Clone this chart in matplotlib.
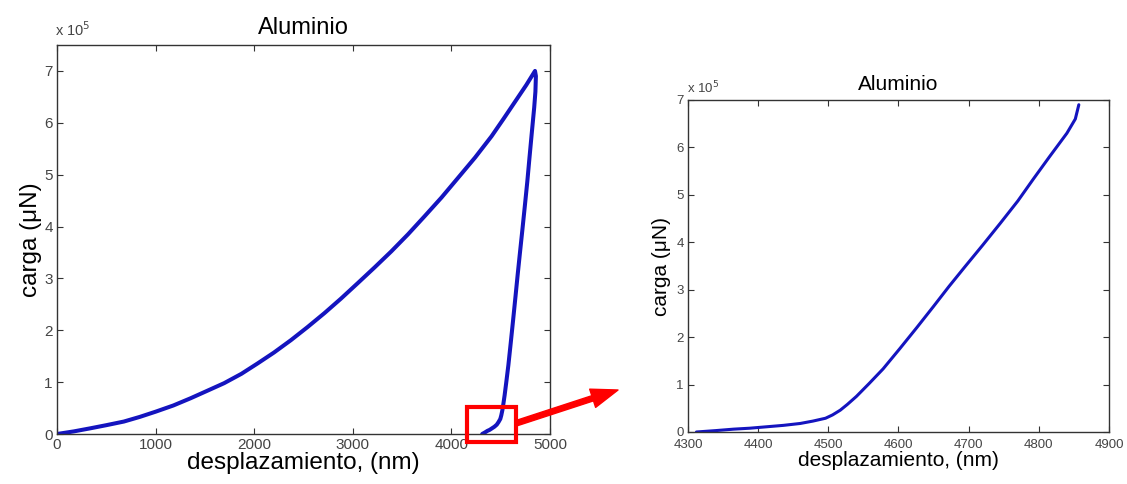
import numpy as np
import matplotlib
matplotlib.use("Agg")
import matplotlib.pyplot as plt
from matplotlib.patches import Rectangle, FancyArrowPatch
from matplotlib.ticker import FuncFormatter

plt.rcParams['font.family'] = ['Liberation Sans', 'DejaVu Sans']

# loading branch (nm, x1e5 uN)
disp_load = [0, 170, 339, 500, 678, 840, 1000, 1180, 1356, 1520, 1695, 1870,
             2034, 2200, 2373, 2540, 2712, 2880, 3051, 3220, 3390, 3560,
             3729, 3900, 4068, 4240, 4407, 4530, 4661, 4760, 4848]
load_load = [0, 0.05, 0.11, 0.17, 0.24, 0.33, 0.43, 0.55, 0.69, 0.83, 0.98, 1.16,
             1.36, 1.57, 1.81, 2.06, 2.33, 2.61, 2.91, 3.21, 3.52, 3.85,
             4.20, 4.56, 4.94, 5.33, 5.74, 6.08, 6.45, 6.73, 7.0]

# unloading branch (nm, x1e5 uN)
disp_unload = [4857, 4852, 4840, 4815, 4792, 4770, 4745, 4720, 4695, 4672,
               4650, 4626, 4602, 4578, 4558, 4540, 4527, 4517, 4506, 4496,
               4478, 4460, 4436, 4412, 4388, 4365, 4340, 4312]
load_unload = [6.9, 6.6, 6.30, 5.80, 5.33, 4.87, 4.40, 3.94, 3.49, 3.07,
               2.65, 2.20, 1.76, 1.33, 1.02, 0.75, 0.58, 0.46, 0.36, 0.29,
               0.23, 0.18, 0.14, 0.11, 0.08, 0.06, 0.03, 0.0]

# zoom box on the left panel (nm, x1e5 uN)
box_x = [4158, 4655]
box_y = [-0.15, 0.52]

titulo = 'Aluminio'
xlab = 'desplazamiento, (nm)'
ylab = 'carga (\u03bcN)'

line_color = '#1414bf'
tick_color = '#444444'
scale = 1e5

fig = plt.figure(figsize=(11.27, 4.84), dpi=100)
W, H = 1127, 484

def px_axes(l, t, r, b):
    return fig.add_axes([l / W, 1 - b / H, (r - l) / W, (b - t) / H])

def style(ax, fs):
    ax.tick_params(direction='in', top=True, right=True, length=4,
                   colors='#333333', labelcolor=tick_color, labelsize=fs, pad=3)
    for s in ax.spines.values():
        s.set_color('#333333')
        s.set_linewidth(1.0)
    ax.yaxis.set_major_formatter(FuncFormatter(lambda v, p: f'{v / scale:.0f}'))

# left panel
ax1 = px_axes(57, 45, 550, 434)
ax1.plot(disp_load + disp_unload,
         np.array(load_load + load_unload) * scale,
         color=line_color, lw=2.9, solid_capstyle='round', solid_joinstyle='round')
ax1.set_xlim(0, 5000)
ax1.set_ylim(0, 7.5 * scale)
ax1.set_xticks(range(0, 5001, 1000))
ax1.set_yticks(np.arange(0, 8) * scale)
style(ax1, 11)
ax1.set_title(titulo, fontsize=17, pad=8)
ax1.set_xlabel(xlab, fontsize=17.5, labelpad=0)
ax1.set_ylabel(ylab, fontsize=17.5, labelpad=2)
ax1.text(-0.005, 1.015, 'x 10$^{5}$', transform=ax1.transAxes, fontsize=10.5,
         color=tick_color, ha='left', va='bottom')
rect = Rectangle((box_x[0], box_y[0] * scale), box_x[1] - box_x[0],
                 (box_y[1] - box_y[0]) * scale, fill=False, edgecolor='#ff0000',
                 lw=3, clip_on=False, zorder=5)
ax1.add_patch(rect)

# right panel (zoom on unloading)
ax2 = px_axes(688, 100, 1109, 432)
ax2.plot(disp_unload, np.array(load_unload) * scale, color=line_color, lw=2.2,
         solid_capstyle='round', solid_joinstyle='round')
ax2.set_xlim(4300, 4900)
ax2.set_ylim(0, 7 * scale)
ax2.set_xticks(range(4300, 4901, 100))
ax2.set_yticks(np.arange(0, 8) * scale)
style(ax2, 9.5)
ax2.tick_params(axis='x', pad=5)
ax2.set_title(titulo, fontsize=15, pad=7)
ax2.set_xlabel(xlab, fontsize=15, labelpad=0)
ax2.set_ylabel(ylab, fontsize=15, labelpad=4)
ax2.text(-0.002, 1.01, 'x 10$^{5}$', transform=ax2.transAxes, fontsize=9.5,
         color=tick_color, ha='left', va='bottom')

# arrow from box to right panel
arrow = FancyArrowPatch((517 / W, 1 - 423 / H), (618 / W, 1 - 390 / H),
                        transform=fig.transFigure, color='#ff0000',
                        arrowstyle='simple,head_width=2.3,head_length=3.2,tail_width=0.65',
                        mutation_scale=6, shrinkA=0, shrinkB=0)
fig.add_artist(arrow)

fig.savefig('out.png', dpi=100)
